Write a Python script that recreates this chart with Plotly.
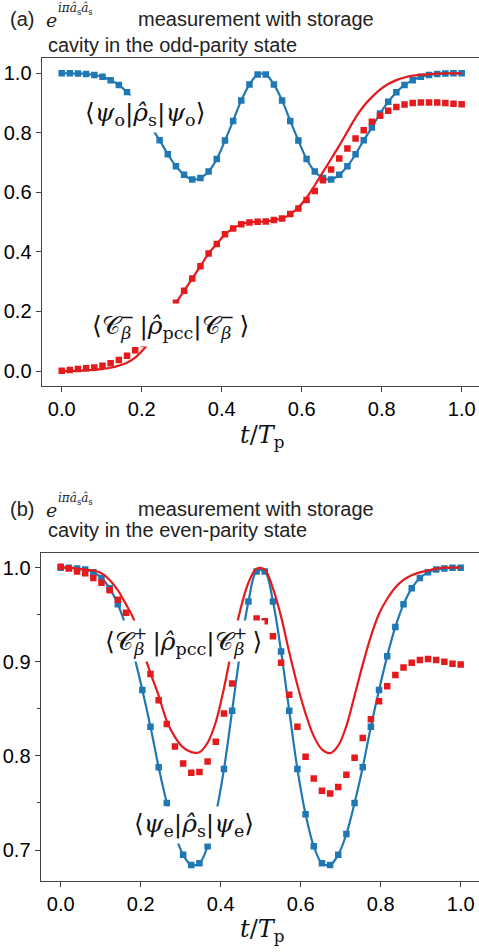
import plotly.graph_objects as go

W, H = 479, 952

t = [0.0, 0.0204, 0.0408, 0.0612, 0.0816, 0.102, 0.1224, 0.1429, 0.1633, 0.1837,
     0.2041, 0.2245, 0.2449, 0.2653, 0.2857, 0.3061, 0.3265, 0.3469, 0.3673, 0.3878,
     0.4082, 0.4286, 0.449, 0.4694, 0.4898, 0.5102, 0.5306, 0.551, 0.5714, 0.5918,
     0.6122, 0.6327, 0.6531, 0.6735, 0.6939, 0.7143, 0.7347, 0.7551, 0.7755, 0.7959,
     0.8163, 0.8367, 0.8571, 0.8776, 0.898, 0.9184, 0.9388, 0.9592, 0.9796, 1.0]

# panel (a): odd parity
a_blue = [1.000, 1.000, 0.999, 0.998, 0.994, 0.988, 0.977, 0.961, 0.936, 0.904,
          0.865, 0.818, 0.775, 0.728, 0.688, 0.659, 0.643, 0.648, 0.670, 0.712,
          0.774, 0.840, 0.909, 0.962, 0.996, 0.996, 0.962, 0.909, 0.840, 0.774,
          0.712, 0.670, 0.648, 0.643, 0.659, 0.688, 0.728, 0.775, 0.818, 0.865,
          0.904, 0.936, 0.961, 0.977, 0.988, 0.994, 0.998, 0.999, 1.000, 1.000]
a_red_pts = [0.001, 0.003, 0.007, 0.009, 0.012, 0.018, 0.026, 0.037, 0.051, 0.070,
             0.091, 0.125, 0.160, 0.195, 0.229, 0.270, 0.311, 0.352, 0.395, 0.427,
             0.459, 0.479, 0.493, 0.499, 0.501, 0.502, 0.507, 0.512, 0.527, 0.546,
             0.574, 0.605, 0.641, 0.677, 0.714, 0.747, 0.781, 0.809, 0.837, 0.857,
             0.874, 0.887, 0.895, 0.900, 0.902, 0.902, 0.902, 0.900, 0.898, 0.896]
a_red_line = [0.000, 0.000, 0.001, 0.002, 0.004, 0.007, 0.011, 0.018, 0.028, 0.045,
              0.072, 0.110, 0.150, 0.190, 0.229, 0.270, 0.311, 0.352, 0.395, 0.427,
              0.459, 0.479, 0.493, 0.499, 0.501, 0.502, 0.507, 0.512, 0.526, 0.550,
              0.582, 0.624, 0.668, 0.712, 0.757, 0.804, 0.851, 0.890, 0.920, 0.945,
              0.964, 0.977, 0.986, 0.992, 0.995, 0.997, 0.999, 1.000, 1.000, 1.000]

# panel (b): even parity
b_blue = [1.000, 1.000, 0.999, 0.998, 0.995, 0.989, 0.978, 0.961, 0.937, 0.906,
          0.870, 0.831, 0.788, 0.750, 0.717, 0.695, 0.684, 0.686, 0.704, 0.738,
          0.786, 0.848, 0.911, 0.964, 0.996, 0.996, 0.964, 0.911, 0.848, 0.786,
          0.738, 0.704, 0.686, 0.684, 0.695, 0.717, 0.750, 0.788, 0.831, 0.870,
          0.906, 0.937, 0.961, 0.978, 0.989, 0.995, 0.998, 0.999, 1.000, 1.000]
b_red_pts = [1.001, 0.999, 0.996, 0.994, 0.989, 0.984, 0.976, 0.966, 0.952, 0.928,
             0.906, 0.887, 0.859, 0.834, 0.810, 0.792, 0.782, 0.783, 0.794, 0.815,
             0.845, 0.877, 0.905, 0.930, 0.946, 0.943, 0.927, 0.899, 0.865, 0.831,
             0.799, 0.776, 0.763, 0.760, 0.767, 0.780, 0.798, 0.819, 0.839, 0.858,
             0.874, 0.886, 0.894, 0.899, 0.902, 0.903, 0.902, 0.900, 0.898, 0.897]
b_red_line = [1.000, 1.000, 0.999, 0.998, 0.997, 0.994, 0.987, 0.976, 0.961, 0.944,
              0.914, 0.888, 0.864, 0.837, 0.820, 0.809, 0.804, 0.804, 0.814, 0.836,
              0.872, 0.915, 0.955, 0.984, 0.999, 0.998, 0.978, 0.948, 0.910, 0.875,
              0.845, 0.821, 0.807, 0.803, 0.811, 0.832, 0.864, 0.897, 0.927, 0.951,
              0.967, 0.979, 0.987, 0.992, 0.995, 0.997, 0.999, 1.000, 1.000, 1.000]

x_ticks = [0.0, 0.2, 0.4, 0.6, 0.8, 1.0]
a_y_ticks = [0.0, 0.2, 0.4, 0.6, 0.8, 1.0]
b_y_ticks = [0.7, 0.8, 0.9, 1.0]
b_y_minor = [0.75, 0.85, 0.95]

BLUE = '#1f77b4'
RED = '#e41a1c'
SPINE = '#444444'
SANS = 'Liberation Sans, Arial, sans-serif'
SERIF = 'DejaVu Serif, serif'

fig = go.Figure()


def add_panel(xa, ya, blue, red_line, red_pts):
    fig.add_trace(go.Scatter(x=t, y=blue, mode='lines', xaxis=xa, yaxis=ya,
                             line=dict(color=BLUE, width=2.2, shape='spline'),
                             showlegend=False, hoverinfo='skip'))
    fig.add_trace(go.Scatter(x=t, y=blue, mode='markers', xaxis=xa, yaxis=ya,
                             marker=dict(symbol='square', size=6.5, color=BLUE,
                                         line=dict(width=0)),
                             showlegend=False))
    fig.add_trace(go.Scatter(x=t, y=red_line, mode='lines', xaxis=xa, yaxis=ya,
                             line=dict(color=RED, width=2.2, shape='spline'),
                             showlegend=False, hoverinfo='skip'))
    fig.add_trace(go.Scatter(x=t, y=red_pts, mode='markers', xaxis=xa, yaxis=ya,
                             marker=dict(symbol='square', size=6.5, color=RED,
                                         line=dict(width=0)),
                             showlegend=False))


add_panel('x', 'y', a_blue, a_red_line, a_red_pts)
add_panel('x2', 'y2', b_blue, b_red_line, b_red_pts)

tickfont = dict(family=SANS, size=20, color='#000000')
common_ax = dict(showline=True, linecolor=SPINE, linewidth=1.3, ticks='outside',
                 ticklen=5, tickwidth=1.2, tickcolor=SPINE, showgrid=False,
                 zeroline=False, tickfont=tickfont, automargin=False,
                 tickformat='.1f')

fig.update_layout(
    width=W, height=H,
    margin=dict(l=0, r=0, t=0, b=0),
    paper_bgcolor='white', plot_bgcolor='white',
    xaxis=dict(domain=[41.7 / W, 1.0], range=[-0.05, 1.0433], anchor='y',
               tickvals=x_ticks, mirror=True, **common_ax),
    yaxis=dict(domain=[1 - 385.9 / H, 1 - 58.4 / H], range=[-0.05, 1.05],
               anchor='x', tickvals=a_y_ticks, mirror=False, **common_ax),
    xaxis2=dict(domain=[40.7 / W, 1.0], range=[-0.05, 1.0458], anchor='y2',
                tickvals=x_ticks, mirror=True, **common_ax),
    yaxis2=dict(domain=[1 - 880.7 / H, 1 - 552.7 / H], range=[0.6674, 1.0159],
                anchor='x2', tickvals=b_y_ticks, mirror=False,
                minor=dict(tickvals=b_y_minor, ticks='outside', ticklen=3,
                           tickwidth=1.0, tickcolor=SPINE),
                **common_ax),
)


def px(x):
    return x / W


def py(y):
    return 1 - y / H


ann = []


def text(x, y, s, size=20, family=SANS, xanchor='left', bg=None, color='#222222', pad=1):
    d = dict(x=px(x), y=py(y), xref='paper', yref='paper', text=s, showarrow=False,
             xanchor=xanchor, yanchor='middle', font=dict(family=family, size=size, color=color))
    if bg:
        d.update(bgcolor=bg, borderpad=pad)
    ann.append(d)


# titles
for (lab, y1, y2, line2) in [('(a)', 19, 45, 'cavity in the odd-parity state'),
                              ('(b)', 509, 530, 'cavity in the even-parity state')]:
    text(8, y1, lab)
    text(44, y1 + 1, '<i>e</i>', size=19, family=SERIF)
    text(56, y1 - 10, '<i>iπâ</i><sub>s</sub><i>â</i><sub>s</sub>', size=12, family=SERIF)
    text(136, y1, 'measurement with storage')
    text(46, y2, line2)

# axis titles
xt = '<i>t</i>/<i>T</i><sub>p</sub>'
text(262, 437, xt, size=24, family=SERIF, xanchor='center', color='#111111')
text(262, 930, xt, size=24, family=SERIF, xanchor='center', color='#111111')


def cat(sign):
    return ('𝒞<sup><span style="letter-spacing:-0.75em">' + sign +
            '</span></sup><sub><i>β</i></sub>')


# curve labels
text(145, 114, '⟨<i>ψ</i><sub>o</sub>|<i>ρ̂</i><sub>s</sub>|<i>ψ</i><sub>o</sub>⟩',
     size=25, family=SERIF, xanchor='center', bg='white', color='#111111', pad=2)
text(170, 325, '⟨' + cat('−') + ' |<i>ρ̂</i><sub>pcc</sub>|' + cat('−') + ' ⟩',
     size=25, family=SERIF, xanchor='center', bg='white', color='#111111', pad=3)
text(183, 641, '⟨' + cat('+') + ' |<i>ρ̂</i><sub>pcc</sub>|' + cat('+') + ' ⟩',
     size=25, family=SERIF, xanchor='center', bg='white', color='#111111', pad=2)
text(194, 825, '⟨<i>ψ</i><sub>e</sub>|<i>ρ̂</i><sub>s</sub>|<i>ψ</i><sub>e</sub>⟩',
     size=25, family=SERIF, xanchor='center', bg='white', color='#111111', pad=2)

fig.update_layout(annotations=ann)
fig.write_html('out.html', config={'displayModeBar': False},
               post_script="document.body.style.margin='0px';document.body.style.overflow='hidden';")
